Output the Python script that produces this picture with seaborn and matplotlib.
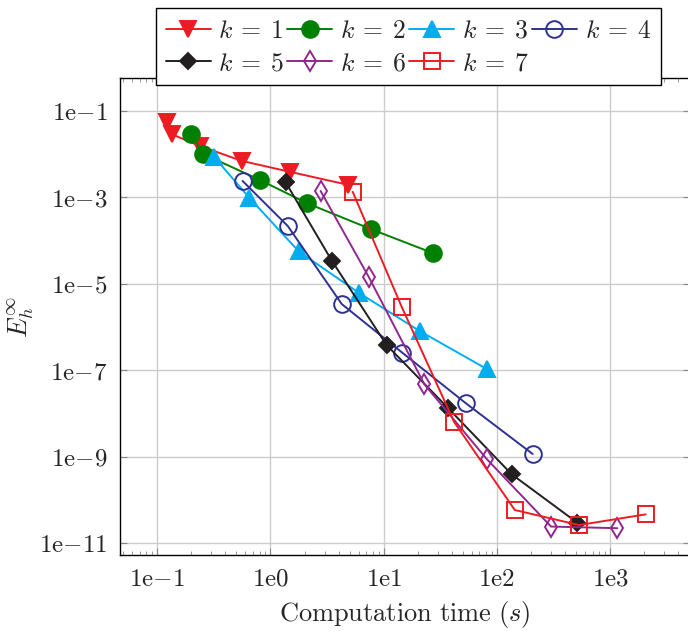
import numpy as np
import pandas as pd
import matplotlib
matplotlib.use("Agg")
import matplotlib.pyplot as plt
import seaborn as sns
from matplotlib.ticker import FixedLocator, LogLocator, NullFormatter

# ---- data ----
t_k1 = [0.121, 0.134, 0.238, 0.557, 1.49, 4.86]
e_k1 = [5.6e-2, 2.9e-2, 1.55e-2, 7.0e-3, 3.9e-3, 1.95e-3]
t_k2 = [0.199, 0.255, 0.807, 2.11, 7.73, 27.4]
e_k2 = [2.94e-2, 1.01e-2, 2.53e-3, 7.3e-4, 1.84e-4, 5.1e-5]
t_k3 = [0.317, 0.65, 1.78, 6.08, 20.9, 82.3]
e_k3 = [8.7e-3, 9.8e-4, 5.6e-5, 6.1e-6, 8.0e-7, 1.05e-7]
t_k4 = [0.567, 1.42, 4.26, 14.6, 53.3, 207.0]
e_k4 = [2.4e-3, 2.18e-4, 3.4e-6, 2.54e-7, 1.71e-8, 1.15e-9]
t_k5 = [1.36, 3.48, 10.6, 36.7, 135.0, 513.0]
e_k5 = [2.24e-3, 3.43e-5, 3.83e-7, 1.36e-8, 3.9e-10, 2.95e-11]
t_k6 = [2.77, 7.38, 22.9, 81.3, 301.0, 1159.0]
e_k6 = [1.41e-3, 1.44e-5, 4.7e-8, 8.8e-10, 2.4e-11, 2.2e-11]
t_k7 = [5.32, 14.4, 41.8, 144.0, 532.0, 2061.0]
e_k7 = [1.35e-3, 2.95e-6, 6.4e-9, 5.8e-11, 2.6e-11, 4.6e-11]

series_labels = [r"$k\:=\:1$", r"$k\:=\:2$", r"$k\:=\:3$", r"$k\:=\:4$",
                 r"$k\:=\:5$", r"$k\:=\:6$", r"$k\:=\:7$"]
x_tick_vals = [1e-1, 1e0, 1e1, 1e2, 1e3]
x_tick_labels = [r"$\mathrm{1e}{-}1$", r"$\mathrm{1e0}$", r"$\mathrm{1e1}$", r"$\mathrm{1e2}$", r"$\mathrm{1e3}$"]
y_tick_vals = [1e-1, 1e-3, 1e-5, 1e-7, 1e-9, 1e-11]
y_tick_labels = [r"$\mathrm{1e}{-}1$", r"$\mathrm{1e}{-}3$", r"$\mathrm{1e}{-}5$",
                 r"$\mathrm{1e}{-}7$", r"$\mathrm{1e}{-}9$", r"$\mathrm{1e}{-}11$"]

sns.set_theme(style="white")
plt.rcParams["mathtext.fontset"] = "cm"
plt.rcParams["font.family"] = ["DejaVu Serif"]

fig = plt.figure(figsize=(6.88, 6.31), dpi=100)
ax = fig.add_axes([120 / 688, 76 / 631, 570 / 688, 477 / 631])

styles = [
    dict(color="#ED1C24", marker="v", ms=11.5, mfc="#ED1C24"),
    dict(color="#008000", marker="o", ms=12, mfc="#008000"),
    dict(color="#00AEEF", marker="^", ms=11.5, mfc="#00AEEF"),
    dict(color="#2E3192", marker="o", ms=12, mfc="none"),
    dict(color="#231F20", marker="D", ms=8.5, mfc="#231F20"),
    dict(color="#92278F", marker="d", ms=10, mfc="none"),
    dict(color="#ED1C24", marker="s", ms=11.5, mfc="none"),
]
ts = [t_k1, t_k2, t_k3, t_k4, t_k5, t_k6, t_k7]
es = [e_k1, e_k2, e_k3, e_k4, e_k5, e_k6, e_k7]

for t, e, lab, st in zip(ts, es, series_labels, styles):
    df = pd.DataFrame({"t": t, "e": e})
    sns.lineplot(data=df, x="t", y="e", ax=ax, sort=False, label=lab,
                 color=st["color"], marker=st["marker"], markersize=st["ms"],
                 markerfacecolor=st["mfc"], markeredgecolor=st["color"],
                 markeredgewidth=1.4, linewidth=1.4)

ax.set_xscale("log")
ax.set_yscale("log")
ax.set_xlim(10 ** -1.3295, 10 ** 3.706)
ax.set_ylim(10 ** -11.278, 10 ** -0.236)

ax.set_xticks(x_tick_vals)
ax.set_xticklabels(x_tick_labels)
ax.xaxis.set_minor_locator(LogLocator(base=10, subs=np.arange(2, 10), numticks=20))
ax.xaxis.set_minor_formatter(NullFormatter())
ax.set_yticks(y_tick_vals)
ax.set_yticklabels(y_tick_labels)
ax.yaxis.set_minor_locator(FixedLocator([]))

ax.tick_params(axis="both", which="major", direction="in", length=5, width=0.8,
               color="#888888", labelsize=18, pad=9)
ax.tick_params(axis="x", which="both", top=True, bottom=True)
ax.tick_params(axis="y", which="both", left=True, right=True)
ax.tick_params(axis="x", which="minor", direction="in", length=3, width=0.6, color="#888888")

ax.grid(True, which="major", color="#cccccc", linewidth=1.0)
for s in ax.spines.values():
    s.set_color("black")
    s.set_linewidth(1.0)

ax.set_xlabel(r"$\mathrm{Computation\ time}\ (s)$", fontsize=19, labelpad=6)
ax.set_ylabel(r"$E_h^\infty$", fontsize=19, labelpad=1)

h, l = ax.get_legend_handles_labels()
if ax.get_legend() is not None:
    ax.get_legend().remove()
order = [0, 4, 1, 5, 2, 6, 3]
leg = fig.legend([h[i] for i in order], [l[i] for i in order], ncol=4,
                 loc="upper left", bbox_to_anchor=(156 / 688, 1 - 8 / 631),
                 bbox_transform=fig.transFigure,
                 fontsize=18.5, frameon=True, fancybox=False, framealpha=1,
                 edgecolor="black", handlelength=1.75, handletextpad=0.3,
                 columnspacing=0.12, borderpad=0.38, labelspacing=0.3,
                 borderaxespad=0)
leg.get_frame().set_linewidth(1.0)

fig.savefig("out.png", dpi=100)
